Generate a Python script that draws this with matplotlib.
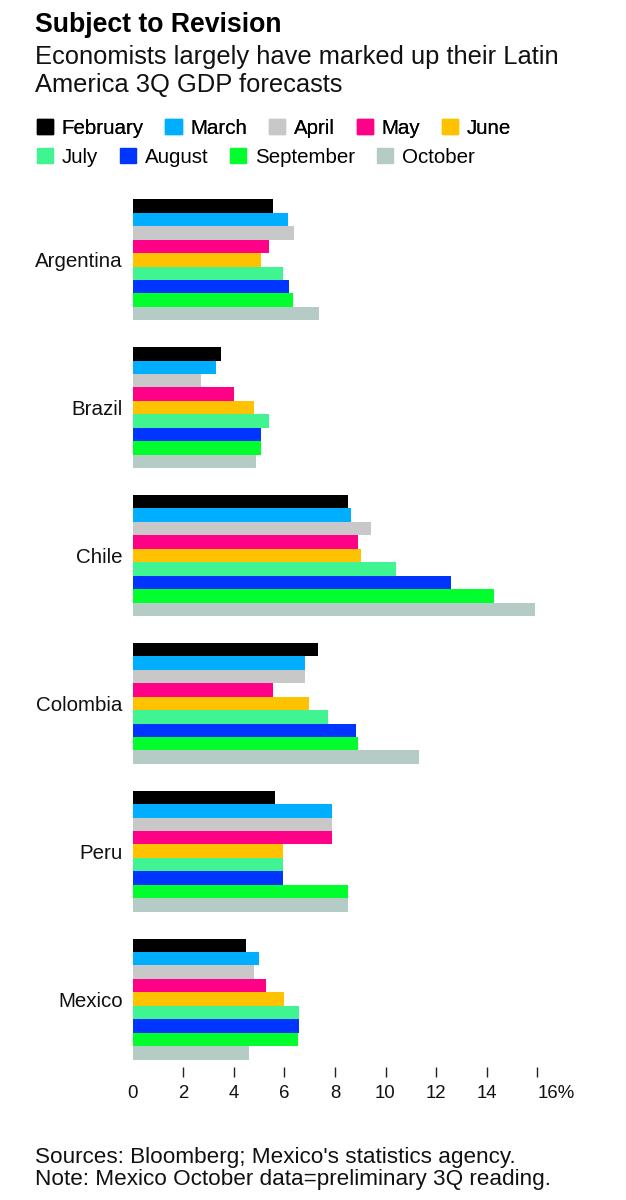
import matplotlib
matplotlib.use('Agg')
import matplotlib.pyplot as plt
import matplotlib.patches as mpatches
import numpy as np

plt.rcParams['font.family'] = ['Liberation Sans', 'DejaVu Sans']

# ── Data: 3Q GDP forecasts (%) by month of survey ───────────────────────────
countries = ['Argentina', 'Brazil', 'Chile', 'Colombia', 'Peru', 'Mexico']
months = ['February', 'March', 'April', 'May', 'June',
          'July', 'August', 'September', 'October']
colors = ['#000000', '#00aeff', '#c8c8c8', '#ff0087', '#ffc200',
          '#40f591', '#0034ff', '#00ff2c', '#b5ccc6']

argentina = [5.55, 6.14, 6.39, 5.40, 5.08, 5.94, 6.20, 6.34, 7.39]
brazil    = [3.49, 3.31, 2.72, 4.03, 4.81, 5.40, 5.08, 5.08, 4.89]
chile     = [8.51, 8.65, 9.43, 8.91, 9.04, 10.42, 12.59, 14.30, 15.89]
colombia  = [7.33, 6.80, 6.80, 5.54, 6.99, 7.72, 8.84, 8.91, 11.34]
peru      = [5.62, 7.90, 7.90, 7.90, 5.94, 5.94, 5.94, 8.51, 8.51]
mexico    = [4.49, 5.00, 4.81, 5.27, 6.00, 6.59, 6.59, 6.53, 4.61]

values = np.array([argentina, brazil, chile, colombia, peru, mexico])

xticks = [0, 2, 4, 6, 8, 10, 12, 14, 16]
xticklabels = ['0', '2', '4', '6', '8', '10', '12', '14', '16%']

# ── Figure ───────────────────────────────────────────────────────────────────
W, H = 626, 1200
fig = plt.figure(figsize=(W / 100, H / 100), dpi=100)

# axes placed in pixel terms: x0 at 132.5px, 25.3px per unit; bars from 199px
ax_left, ax_right = 132.5, 132.5 + 16 * 25.3
ax_top, ax_bottom = 199.3, 1077
ax = fig.add_axes([ax_left / W, 1 - ax_bottom / H,
                   (ax_right - ax_left) / W, (ax_bottom - ax_top) / H])

group_gap = 11
bar_h = 1.0
for j, (month, col) in enumerate(zip(months, colors)):
    ys = np.arange(len(countries)) * group_gap + j
    ax.barh(ys, values[:, j], height=bar_h, color=col, linewidth=0,
            label=month)

ax.set_xlim(0, 16)
ax.set_ylim(64.8, -0.5)

ax.set_yticks(np.arange(len(countries)) * group_gap + 4)
ax.set_yticklabels(countries, fontsize=14.8, color='#111111')
ax.tick_params(axis='y', length=0, pad=7)

ax.set_xticks(xticks)
ax.set_xticklabels(xticklabels, fontsize=13.4, color='#111111')
ax.tick_params(axis='x', direction='in', length=7.2, width=1.0,
               color='#222222', pad=6)
ax.xaxis.get_major_ticks()[0].tick1line.set_visible(False)
last = ax.get_xticklabels()[-1]
last.set_horizontalalignment('left')

for s in ax.spines.values():
    s.set_visible(False)

# ── Titles ───────────────────────────────────────────────────────────────────
def fy(px):
    return 1 - px / H

fig.text(35 / W, fy(31.7), 'Subject to Revision', fontsize=19.2,
         fontweight='bold', va='baseline', ha='left')
fig.text(35 / W, fy(64.3), 'Economists largely have marked up their Latin',
         fontsize=18.4, va='baseline', ha='left', color='#111111')
fig.text(35 / W, fy(92.3), 'America 3Q GDP forecasts',
         fontsize=18.4, va='baseline', ha='left', color='#111111')

# ── Legend (two rows) ────────────────────────────────────────────────────────
handles = [mpatches.Patch(color=c, label=m) for m, c in zip(months, colors)]
leg_kw = dict(frameon=False, fontsize=14.8, handlelength=0.78,
              handleheight=0.76, handletextpad=0.44, columnspacing=1.05,
              borderpad=0, borderaxespad=0, loc='center left')
leg1 = fig.legend(handles=handles[:5], ncol=5,
                  bbox_to_anchor=(36.7 / W, fy(128.5)), **leg_kw)
leg2 = fig.legend(handles=handles[5:], ncol=4,
                  bbox_to_anchor=(36.7 / W, fy(157.5)), **leg_kw)
fig.add_artist(leg1)

# ── Footnotes ────────────────────────────────────────────────────────────────
fig.text(35 / W, fy(1163), "Sources: Bloomberg; Mexico's statistics agency.",
         fontsize=16.2, va='baseline', ha='left', color='#111111')
fig.text(35 / W, fy(1185), 'Note: Mexico October data=preliminary 3Q reading.',
         fontsize=16.2, va='baseline', ha='left', color='#111111')

fig.savefig('out.png', dpi=100)
